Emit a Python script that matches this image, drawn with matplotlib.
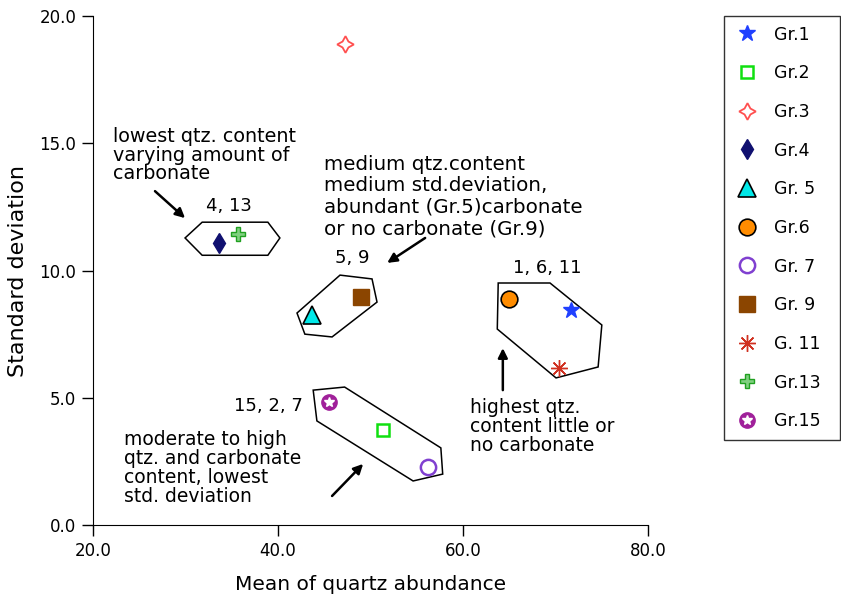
import matplotlib
matplotlib.use("Agg")
import matplotlib.pyplot as plt
from matplotlib.lines import Line2D
from matplotlib.patches import Polygon

# group means / std devs
groups = ["Gr.1", "Gr.2", "Gr.3", "Gr.4", "Gr. 5", "Gr.6", "Gr. 7",
          "Gr. 9", "G. 11", "Gr.13", "Gr.15"]
mean_qtz = [71.7, 51.4, 47.2, 33.6, 43.7, 65.0, 56.2, 49.0, 70.4, 35.7, 45.5]
std_dev = [8.45, 3.73, 18.9, 11.1, 8.25, 8.88, 2.28, 8.96, 6.17, 11.43, 4.83]

# outlines around the clusters
hull_4_13 = [(29.95, 11.28), (31.8, 11.9), (38.9, 11.9), (40.2, 11.28), (38.9, 10.6), (31.8, 10.6)]
hull_5_9 = [(46.7, 9.82), (50.16, 9.67), (50.7, 8.76), (45.84, 7.39), (42.9, 7.5), (42.05, 8.33)]
hull_1_6_11 = [(63.8, 9.51), (69.4, 9.51), (75.0, 7.86), (74.6, 6.21), (70.05, 5.78), (63.7, 7.70)]
hull_15_2_7 = [(43.8, 5.30), (47.2, 5.42), (57.6, 3.03), (57.8, 2.0), (54.6, 1.73), (44.2, 4.09)]

styles = [
    dict(marker="*", color="#2040ff", ms=12, mec="#2040ff"),
    dict(marker="s", color="white", ms=9, mec="#10e010", mew=1.8),
    dict(marker=(4, 1, 0), color="white", ms=12, mec="#ff5050", mew=1.3),
    dict(marker="d", color="#101070", ms=10, mec="#101070"),
    dict(marker="^", color="#00e8e8", ms=13, mec="black", mew=1.2),
    dict(marker="o", color="#ff8c00", ms=12, mec="black", mew=1.2),
    dict(marker="o", color="white", ms=11, mec="#8040d0", mew=1.8),
    dict(marker="s", color="#8b4500", ms=11, mec="#8b4500"),
    dict(marker=(8, 2, 0), color="#d03020", ms=12, mec="#d03020", mew=1.0),
    dict(marker="P", color="#80d080", ms=10, mec="#20a020", mew=1.0),
    dict(marker="o", color="#a0209a", ms=11, mec="#a0209a"),
]

fig = plt.figure(figsize=(8.41, 5.98), dpi=100)
ax = fig.add_axes([0.1106, 0.1221, 0.66, 0.851])

for hull in [hull_4_13, hull_5_9, hull_1_6_11, hull_15_2_7]:
    ax.add_patch(Polygon(hull, closed=True, fill=False, ec="black", lw=1.1, zorder=2))

handles = []
for i, g in enumerate(groups):
    st = styles[i]
    ax.plot(mean_qtz[i], std_dev[i], ls="none", marker=st["marker"], mfc=st["color"],
            mec=st["mec"], ms=st["ms"], mew=st.get("mew", 1.0), zorder=3)
    h = Line2D([], [], ls="none", marker=st["marker"], mfc=st["color"],
               mec=st["mec"], ms=st["ms"], mew=st.get("mew", 1.0))
    if g == "Gr.15":
        ax.plot(mean_qtz[i], std_dev[i], ls="none", marker="*", mfc="white",
                mec="white", ms=7, zorder=4)
        h = (h, Line2D([], [], ls="none", marker="*", mfc="white", mec="white", ms=7))
    handles.append(h)

ax.set_xlim(20, 80)
ax.set_ylim(0, 20)
ax.set_xticks([20, 40, 60, 80])
ax.set_yticks([0, 5, 10, 15, 20])
ax.set_xticklabels(["20.0", "40.0", "60.0", "80.0"], fontsize=12)
ax.set_yticklabels(["0.0", "5.0", "10.0", "15.0", "20.0"], fontsize=12)
ax.spines["top"].set_visible(False)
ax.spines["right"].set_visible(False)
ax.tick_params(direction="out", length=8, width=1, color="black", pad=4)
ax.set_xlabel("Mean of quartz abundance", fontsize=14.5, labelpad=11)
ax.set_ylabel("Standard deviation", fontsize=16, labelpad=8)

# notes
ax.text(22.2, 15.64, "lowest qtz. content\nvarying amount of\ncarbonate", fontsize=13.8,
        va="top", ha="left", linespacing=0.98)
ax.text(34.7, 12.53, "4, 13", fontsize=13, ha="center", va="center")
ax.text(44.97, 14.54, "medium qtz.content\nmedium std.deviation,\nabundant (Gr.5)carbonate\nor no carbonate (Gr.9)",
        fontsize=14.3, va="top", ha="left", linespacing=1.16)
ax.text(46.2, 10.49, "5, 9", fontsize=13, ha="left", va="center")
ax.text(65.4, 10.1, "1, 6, 11", fontsize=13, ha="left", va="center")
ax.text(60.76, 4.99, "highest qtz.\ncontent little or\nno carbonate", fontsize=13.5,
        va="top", ha="left", linespacing=1.0)
ax.text(42.7, 4.68, "15, 2, 7", fontsize=13, ha="right", va="center")
ax.text(23.35, 3.73, "moderate to high\nqtz. and carbonate\ncontent, lowest\nstd. deviation", fontsize=13.5,
        va="top", ha="left", linespacing=1.0)

arrows = [((26.7, 13.12), (29.95, 12.06)),
          ((55.9, 11.28), (51.8, 10.3)),
          ((64.3, 5.30), (64.3, 6.95)),
          ((45.84, 1.14), (49.2, 2.4))]
for tail, head in arrows:
    ax.annotate("", xy=head, xytext=tail,
                arrowprops=dict(arrowstyle="-|>", color="black", lw=1.8, mutation_scale=14,
                                shrinkA=0, shrinkB=0))

leg = fig.legend(handles, groups, loc="upper left", bbox_to_anchor=(0.861, 0.5, 0.1378, 0.4732),
                 mode="expand", prop={"size": 12.5}, frameon=True, fancybox=False,
                 edgecolor="black", labelspacing=1.19, handlelength=1.5, handletextpad=0.8,
                 borderpad=0.55, borderaxespad=0)
leg.get_frame().set_linewidth(1.0)

fig.savefig("out.png", dpi=100)
